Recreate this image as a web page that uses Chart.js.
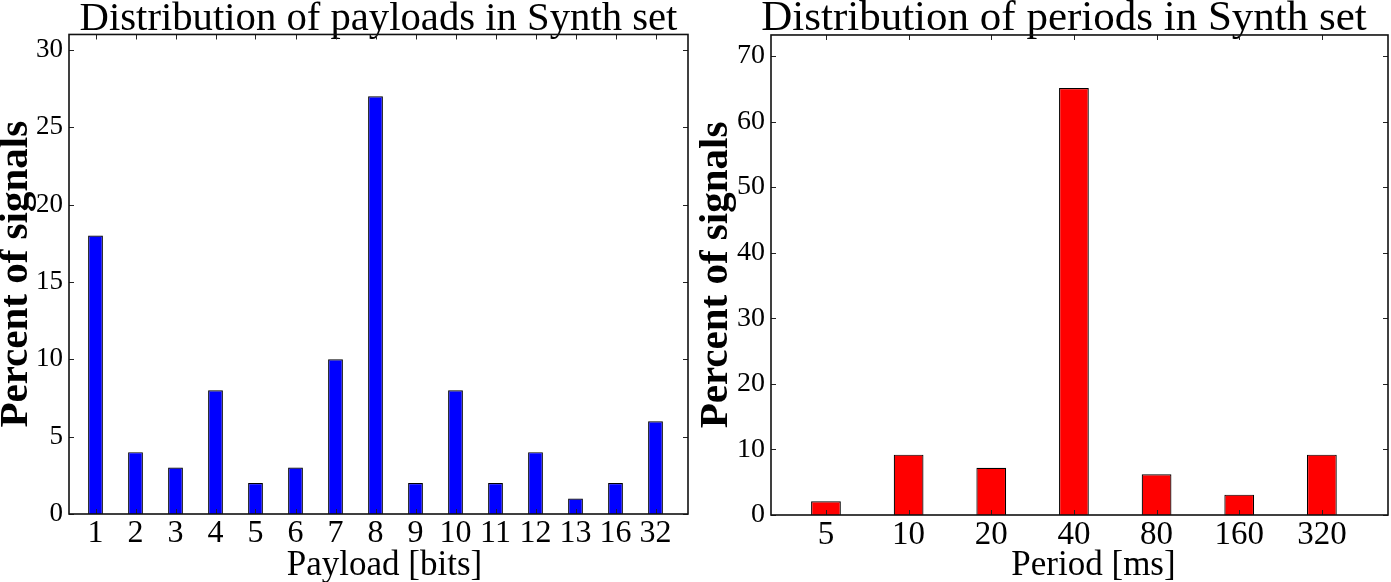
<!DOCTYPE html>
<html><head><meta charset="utf-8">
<script src="https://cdn.jsdelivr.net/npm/chart.js@4"></script>
<style>
html,body{margin:0;padding:0;background:#fff;overflow:hidden;width:1391px;height:582px}
#c1{position:absolute;left:0;top:0}
#c2{position:absolute;left:695px;top:0}
</style></head><body>
<canvas id="c1" width="695" height="582"></canvas>
<canvas id="c2" width="696" height="582"></canvas>
<script>
const payloadCategories = ['1','2','3','4','5','6','7','8','9','10','11','12','13','16','32'];
const payloadPercent = [18,4,3,8,2,3,10,27,2,8,2,4,1,2,6];
const payloadYTicks = [0,5,10,15,20,25,30];

const periodCategories = ['5','10','20','40','80','160','320'];
const periodPercent = [2.1,9.2,7.2,65.1,6.2,3.1,9.2];
const periodYTicks = [0,10,20,30,40,50,60,70];

const SERIF = '"Liberation Serif", "DejaVu Serif", serif';

const frameTicksPlugin = {
  id: 'frameTicks',
  afterLayout(chart, args, opts) {
    const t = chart.titleBlock;
    if (t && opts.titleShift) { t.left += opts.titleShift; t.right += opts.titleShift; }
    const x = chart.scales.x;
    if (x && opts.xTitleShift) { x.left += opts.xTitleShift; x.right += opts.xTitleShift; }
  },
  afterDatasetsDraw(chart) {
    const {ctx, chartArea: a, scales: {x, y}} = chart;
    const L = 5;
    ctx.save();
    ctx.strokeStyle = '#222';
    ctx.lineWidth = 1;
    ctx.beginPath();
    x.ticks.forEach(t => {
      const px = Math.round(x.getPixelForValue(t.value)) + 0.5;
      ctx.moveTo(px, a.bottom); ctx.lineTo(px, a.bottom - L);
      ctx.moveTo(px, a.top); ctx.lineTo(px, a.top + L);
    });
    y.ticks.forEach(t => {
      const py = Math.round(y.getPixelForValue(t.value)) + 0.5;
      ctx.moveTo(a.left, py); ctx.lineTo(a.left + L, py);
      ctx.moveTo(a.right, py); ctx.lineTo(a.right - L, py);
    });
    ctx.stroke();
    ctx.lineWidth = 1.6;
    ctx.strokeStyle = '#111';
    ctx.strokeRect(a.left, a.top, a.right - a.left, a.bottom - a.top);
    ctx.restore();
  }
};

function makeChart(id, cfg) {
  return new Chart(document.getElementById(id), {
    type: 'bar',
    data: {
      datasets: [{
        data: cfg.values.map((v, i) => ({x: i, y: v})),
        backgroundColor: cfg.color,
        borderColor: '#000',
        borderWidth: 1.2,
        borderSkipped: 'start',
        barPercentage: cfg.barPct,
        categoryPercentage: 1
      }]
    },
    options: {
      responsive: false,
      animation: false,
      layout: {padding: {left: 0, right: cfg.padRight, top: 0, bottom: 0}},
      plugins: {
        legend: {display: false},
        tooltip: {enabled: false},
        frameTicks: {titleShift: cfg.titleShift, xTitleShift: cfg.xTitleShift},
        title: {
          display: true, text: cfg.title, fullSize: false, color: '#000',
          font: {family: SERIF, size: cfg.titleSize, weight: 'normal', lineHeight: cfg.titleLH},
          padding: {top: cfg.titlePT, bottom: cfg.titlePB}
        }
      },
      scales: {
        x: {
          type: 'linear', min: cfg.xmin, max: cfg.xmax, offset: false,
          grid: {display: false, drawTicks: false},
          border: {display: false},
          afterBuildTicks: s => { s.ticks = cfg.categories.map((_, i) => ({value: i})); },
          afterFit: s => { s.height = cfg.xAxisHeight; },
          ticks: {
            callback: v => cfg.categories[v] ?? '',
            color: '#000', autoSkip: false, maxRotation: 0, minRotation: 0,
            font: {family: SERIF, size: cfg.xTickSize, lineHeight: 1},
            padding: 4
          },
          title: {
            display: true, text: cfg.xTitle, color: '#000',
            font: {family: SERIF, size: 35, lineHeight: 0.8},
            padding: {top: 0, bottom: 2}
          }
        },
        y: {
          min: 0, max: cfg.ymax,
          grid: {display: false, drawTicks: false},
          border: {display: false},
          afterBuildTicks: s => { s.ticks = cfg.yTicks.map(v => ({value: v})); },
          afterFit: s => { s.width = cfg.yAxisWidth; },
          ticks: {
            callback: v => String(v),
            color: '#000',
            font: {family: SERIF, size: cfg.yTickSize, lineHeight: 1},
            padding: 6
          },
          title: {
            display: true, text: 'Percent of signals', color: '#000',
            font: {family: SERIF, size: 41, weight: 'bold', lineHeight: cfg.yTitleLH},
            padding: {top: 0, bottom: 0}
          }
        }
      }
    },
    plugins: [frameTicksPlugin]
  });
}

makeChart('c1', {
  categories: payloadCategories, values: payloadPercent, yTicks: payloadYTicks,
  color: '#0000ff', title: 'Distribution of payloads in Synth set', xTitle: 'Payload [bits]',
  titleSize: 40.7, titleLH: 0.675, titlePT: 6, titlePB: 1, titleShift: 0, xTitleShift: 6,
  xmin: -0.6625, xmax: 14.8125, ymax: 31, barPct: 0.37,
  xAxisHeight: 68, yAxisWidth: 69, padRight: 7,
  xTickSize: 32, yTickSize: 27, yTitleLH: 0.79
});

makeChart('c2', {
  categories: periodCategories, values: periodPercent, yTicks: periodYTicks,
  color: '#ff0000', title: 'Distribution of periods in Synth set', xTitle: 'Period [ms]',
  titleSize: 43, titleLH: 0.581, titlePT: 6, titlePB: 4, titleShift: -15.5, xTitleShift: 14,
  xmin: -0.665, xmax: 6.80, ymax: 73.2, barPct: 0.36,
  xAxisHeight: 67, yAxisWidth: 76, padRight: 3,
  xTickSize: 33, yTickSize: 28, yTitleLH: 1.02
});
</script>
</body></html>
